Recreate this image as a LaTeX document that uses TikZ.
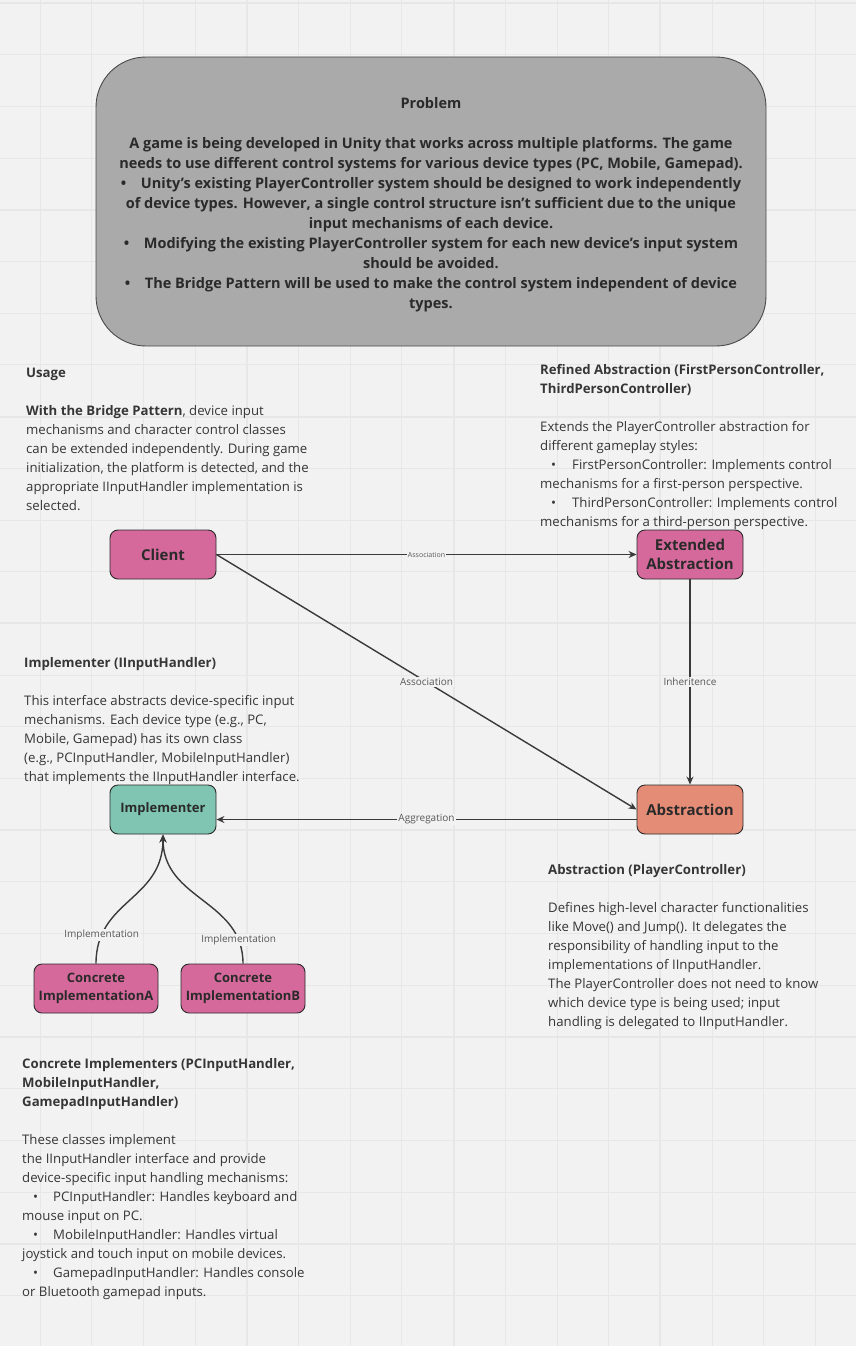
\documentclass[tikz,border=0pt]{standalone}
\usepackage{fontspec}
\setmainfont{Open Sans}
\usepackage{tikz}
\usetikzlibrary{arrows.meta}

\definecolor{bgcol}{HTML}{F2F2F2}
\definecolor{gridcol}{HTML}{E7E7E7}
\definecolor{probfill}{HTML}{AAAAAA}
\definecolor{pinkfill}{HTML}{D6699B}
\definecolor{tealfill}{HTML}{7FC5B1}
\definecolor{salmonfill}{HTML}{E58C77}
\definecolor{inkcol}{HTML}{2A2A2A}
\definecolor{bodycol}{HTML}{363636}
\definecolor{edgecol}{HTML}{3A3A3A}

\tikzset{
  classbox/.style={draw=inkcol, line width=0.9pt, rounded corners=8pt, minimum width=106pt,
        minimum height=49pt, inner sep=2pt, align=center, text=inkcol,
        font=\fontsize{15}{19.5}\selectfont\bfseries},
  concbox/.style={classbox, minimum width=124pt, font=\fontsize{13}{18}\selectfont\bfseries},
  notetext/.style={anchor=north west, inner sep=0pt, align=left, text=bodycol,
        font=\fontsize{13.2}{19}\selectfont},
  rel/.style={draw=edgecol, line width=1.4pt, -{Stealth[length=8pt,width=7pt]}},
  rellabel/.style={fill=bgcol, inner sep=1pt, text=edgecol!85, font=\fontsize{10}{12}\selectfont},
}
\newcommand{\bul}[1]{\makebox[#1][l]{\hspace*{11pt}\textbullet}}

\begin{document}
\begin{tikzpicture}[x=1pt, y=-1pt]
        \useasboundingbox (0,0) rectangle (856,1346);
        \fill[bgcol] (0,0) rectangle (856,1346);

        % grid of the board
        \foreach \k in {0,...,15}
                \draw[gridcol, line width=1pt] ({40+51.7*\k},0) -- ({40+51.7*\k},1346);
        \foreach \k in {0,...,25}
                \draw[gridcol, line width=1pt] (0,{3+51.7*\k}) -- (856,{3+51.7*\k});
        \foreach \k in {0,4,...,24}
                \draw[gridcol, line width=2pt] (0,{3+51.7*\k}) -- (856,{3+51.7*\k});
        \foreach \k in {4,8,12}
                \draw[gridcol, line width=2pt] ({40+51.7*\k},0) -- ({40+51.7*\k},1346);

        % problem
        \filldraw[fill=probfill, draw=inkcol!85, line width=0.9pt, rounded corners=50pt]
                (96,57) rectangle (766,346);
        \node[anchor=north, inner sep=0pt, align=center, text=inkcol,
              font=\fontsize{14.5}{20}\selectfont\bfseries] (problem) at (431,94) {\strut Problem\\[20pt]
                A game is being developed in Unity that works across multiple platforms. The game\\
                needs to use different control systems for various device types (PC, Mobile, Gamepad).\\
                \textbullet\quad Unity’s existing PlayerController system should be designed to work independently\\
                of device types. However, a single control structure isn’t sufficient due to the unique\\
                input mechanisms of each device.\\
                \textbullet\quad Modifying the existing PlayerController system for each new device’s input system\\
                should be avoided.\\
                \textbullet\quad The Bridge Pattern will be used to make the control system independent of device\\
                types.};

        % notes
        \node[notetext] (usage) at (26,363.7) {\strut\textbf{Usage}\\[19pt]
                \textbf{With the Bridge Pattern}, device input\\
                mechanisms and character control classes\\
                can be extended independently. During game\\
                initialization, the platform is detected, and the\\
                appropriate IInputHandler implementation is\\
                selected.};
        \node[notetext] (refined) at (540,360.7) {\strut\textbf{Refined Abstraction (FirstPersonController,}\\
                \textbf{ThirdPersonController)}\\[19pt]
                Extends the PlayerController abstraction for\\
                different gameplay styles:\\
                \bul{32pt}FirstPersonController: Implements control\\
                mechanisms for a first-person perspective.\\
                \bul{32pt}ThirdPersonController: Implements control\\
                mechanisms for a third-person perspective.};
        \node[notetext] (implnote) at (24,653.7) {\strut\textbf{Implementer (IInputHandler)}\\[19pt]
                This interface abstracts device-specific input\\
                mechanisms. Each device type (e.g., PC,\\
                Mobile, Gamepad) has its own class\\
                (e.g., PCInputHandler, MobileInputHandler)\\
                that implements the IInputHandler interface.};
        \node[notetext] (absnote) at (548,860.7) {\strut\textbf{Abstraction (PlayerController)}\\[19pt]
                Defines high-level character functionalities\\
                like Move() and Jump(). It delegates the\\
                responsibility of handling input to the\\
                implementations of IInputHandler.\\
                The PlayerController does not need to know\\
                which device type is being used; input\\
                handling is delegated to IInputHandler.};
        \node[notetext] (concnote) at (22,1054.7) {\strut\textbf{Concrete Implementers (PCInputHandler,}\\
                \textbf{MobileInputHandler,}\\
                \textbf{GamepadInputHandler)}\\[19pt]
                These classes implement\\
                the IInputHandler interface and provide\\
                device-specific input handling mechanisms:\\
                \bul{31pt}PCInputHandler: Handles keyboard and\\
                mouse input on PC.\\
                \bul{31pt}MobileInputHandler: Handles virtual\\
                joystick and touch input on mobile devices.\\
                \bul{31pt}GamepadInputHandler: Handles console\\
                or Bluetooth gamepad inputs.};

        % classes
        \node[classbox, fill=pinkfill] (client) at (163,554.5) {Client};
        \node[classbox, fill=pinkfill] (extabs) at (690,554.5) {Extended\\Abstraction};
        \node[classbox, fill=tealfill, font=\fontsize{13}{18}\selectfont\bfseries] (impl) at (163,809.5) {Implementer};
        \node[classbox, fill=salmonfill] (abs) at (690,809.5) {Abstraction};
        \node[concbox, fill=pinkfill] (concA) at (96,988.5) {Concrete\\ImplementationA};
        \node[concbox, fill=pinkfill] (concB) at (243,988.5) {Concrete\\ImplementationB};

        % relations
        \draw[rel] (client.east) -- node[rellabel, font=\fontsize{7}{8}\selectfont] {Association} (extabs.west);
        \draw[rel] (client.east) -- node[rellabel] {Association} (abs.west);
        \draw[rel] (extabs.south) -- node[rellabel] {Inheritence} (abs.north);
        \draw[rel] ([yshift=-10pt]abs.west) -- node[rellabel] {Aggregation} ([yshift=-10pt]impl.east);
        \draw[rel] (concA.north) .. controls ([yshift=64pt]concA.north) and ([yshift=-66pt]impl.south) .. (impl.south)
                node[rellabel, pos=0.18] {Implementation};
        \draw[rel] (concB.north) .. controls ([yshift=64pt]concB.north) and ([yshift=-66pt]impl.south) .. (impl.south)
                node[rellabel, pos=0.14] {Implementation};
\end{tikzpicture}
\end{document}
